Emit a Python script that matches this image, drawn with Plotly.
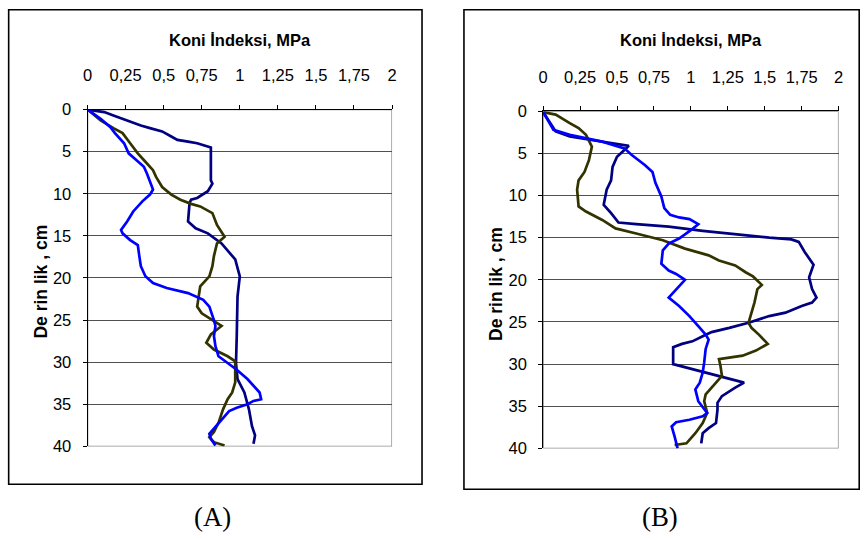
import plotly.graph_objects as go

# ---------- data (Koni indeksi, MPa vs Derinlik, cm) ----------
x_ticks = [0, 0.25, 0.5, 0.75, 1, 1.25, 1.5, 1.75, 2]
x_tick_text = ["0", "0,25", "0,5", "0,75", "1", "1,25", "1,5", "1,75", "2"]
y_ticks = [0, 5, 10, 15, 20, 25, 30, 35, 40]

# Panel A
a_navy_depth = [0, 0.3, 0.7, 1.3, 1.9, 2.2, 2.6, 3.2, 3.6, 3.8, 4.0, 4.5, 4.8, 8.4, 8.8, 9.7, 10.5, 10.7, 11.1, 13.3,
                14.1, 14.7, 15.9, 17.8, 19.8, 22.2, 26.9, 30.1, 32.0, 33.6, 35.6, 37.6, 38.7, 39.7]
a_navy_val = [0, 0.11, 0.17, 0.26, 0.35, 0.41, 0.49, 0.55, 0.59, 0.66, 0.72, 0.81, 0.81, 0.81, 0.82, 0.79, 0.72, 0.68,
              0.67, 0.66, 0.71, 0.79, 0.88, 0.97, 1.0, 0.985, 0.98, 0.975, 0.985, 1.03, 1.06, 1.08, 1.10, 1.09]

a_olive_depth = [0, 1.3, 2.2, 2.8, 4.0, 5.2, 6.2, 7.2, 8.0, 9.2, 10.1, 10.7, 11.2, 11.5, 12.3, 13.7, 15.1, 15.9, 17.4,
                 18.6, 19.8, 21.0, 22.2, 23.4, 24.2, 25.0, 25.7, 26.7, 27.7, 28.5, 29.3, 29.9, 32.4, 33.6, 34.4, 35.6,
                 37.2, 38.3, 38.9, 39.5, 39.9]
a_olive_val = [0, 0.086, 0.17, 0.23, 0.28, 0.33, 0.38, 0.43, 0.45, 0.49, 0.55, 0.61, 0.68, 0.74, 0.82, 0.85, 0.90, 0.85,
               0.83, 0.82, 0.80, 0.74, 0.73, 0.72, 0.75, 0.82, 0.88, 0.81, 0.78, 0.83, 0.92, 0.97, 0.97, 0.95, 0.92,
               0.89, 0.86, 0.83, 0.80, 0.83, 0.90]

a_blue_depth = [0, 1.1, 2.1, 2.8, 4.0, 5.2, 6.0, 6.8, 7.6, 9.5, 10.1, 10.9, 12.1, 13.3, 14.3, 14.7, 15.5, 16.1, 17.4,
                18.6, 19.8, 20.6, 21.2, 21.8, 22.6, 23.4, 25.0, 25.7, 26.9, 28.1, 29.3, 30.1, 30.9, 32.0, 33.6, 34.4,
                34.6, 35.0, 35.4, 35.8, 37.2, 38.0, 38.5, 39.1, 39.9]
a_blue_val = [0, 0.086, 0.15, 0.18, 0.24, 0.27, 0.32, 0.37, 0.39, 0.43, 0.41, 0.36, 0.30, 0.26, 0.22, 0.23, 0.28, 0.33,
              0.34, 0.35, 0.38, 0.43, 0.52, 0.66, 0.76, 0.80, 0.83, 0.84, 0.83, 0.84, 0.86, 0.92, 0.98, 1.05, 1.13,
              1.14, 1.09, 1.05, 0.98, 0.93, 0.86, 0.82, 0.80, 0.81, 0.84]

# Panel B
b_navy_depth = [0.1, 1.2, 2.4, 3.0, 3.3, 3.6, 3.8, 4.1, 4.6, 5.4, 6.6, 8.2, 9.3, 11.1, 12.1, 13.2, 13.4, 13.7, 14.2,
                14.6, 15.0, 15.2, 15.5, 16.7, 18.2, 19.7, 21.1, 22.1, 22.7, 23.1, 23.9, 24.3, 25.1, 25.7, 26.2, 26.7,
                27.3, 27.6, 28.0, 30.0, 30.6, 31.4, 32.2, 32.8, 33.8, 34.6, 35.4, 37.0, 37.6, 38.2, 39.4]
b_navy_val = [0, 0.04, 0.085, 0.18, 0.29, 0.40, 0.49, 0.58, 0.55, 0.50, 0.47, 0.46, 0.43, 0.41, 0.46, 0.51, 0.63, 0.85,
              1.08, 1.30, 1.53, 1.68, 1.73, 1.77, 1.83, 1.80, 1.82, 1.85, 1.82, 1.75, 1.64, 1.53, 1.39, 1.26, 1.14,
              1.08, 1.01, 0.94, 0.88, 0.88, 1.01, 1.19, 1.36, 1.30, 1.21, 1.18, 1.18, 1.17, 1.12, 1.08, 1.07]

b_olive_depth = [0.1, 0.4, 1.4, 2.0, 2.8, 4.2, 5.8, 7.2, 8.2, 9.3, 11.3, 11.9, 12.9, 13.9, 14.5, 15.3, 16.3, 17.1,
                 17.7, 18.3, 19.1, 19.6, 20.6, 21.1, 22.7, 25.1, 25.7, 26.5, 27.6, 28.4, 29.0, 29.2, 29.4, 30.2, 31.4,
                 32.2, 33.6, 34.4, 35.8, 37.0, 38.2, 39.4, 39.6]
b_olive_val = [0, 0.085, 0.18, 0.24, 0.29, 0.33, 0.31, 0.28, 0.24, 0.23, 0.24, 0.29, 0.40, 0.49, 0.63, 0.81, 0.96,
               1.12, 1.19, 1.30, 1.37, 1.42, 1.48, 1.45, 1.43, 1.39, 1.41, 1.46, 1.52, 1.44, 1.35, 1.26, 1.19, 1.20,
               1.21, 1.17, 1.10, 1.09, 1.11, 1.08, 1.03, 0.97, 0.89]

b_blue_depth = [0.1, 1.0, 2.2, 2.8, 3.2, 3.6, 4.4, 5.2, 6.4, 7.2, 8.5, 10.1, 11.5, 12.3, 12.6, 12.8, 13.4, 14.1, 15.1,
                15.7, 16.5, 18.1, 18.9, 19.3, 20.0, 21.1, 22.1, 23.1, 24.3, 25.5, 26.5, 27.1, 28.2, 29.8, 31.0, 32.2,
                33.0, 34.4, 35.8, 36.2, 36.6, 36.9, 37.4, 38.6, 40.0]
b_blue_val = [0, 0.03, 0.07, 0.18, 0.29, 0.40, 0.55, 0.60, 0.69, 0.74, 0.76, 0.80, 0.82, 0.86, 0.92, 0.99, 1.05, 1.00,
              0.92, 0.85, 0.81, 0.80, 0.85, 0.90, 0.96, 0.90, 0.85, 0.92, 0.99, 1.05, 1.10, 1.12, 1.10, 1.09, 1.08,
              1.06, 1.03, 1.05, 1.11, 1.08, 0.99, 0.90, 0.87, 0.89, 0.91]

x_title = "Koni İndeksi, MPa"
y_title = "De rin lik , cm"
panel_labels = ["(A)", "(B)"]

# ---------- figure ----------
W, H = 865, 540
NAVY, OLIVE, BLUE = "#000080", "#333300", "#0000FF"
FONT = "Liberation Sans, Arial, sans-serif"

# the page is photographed slightly shrunk about its centre; place things so they land
# on the reference pixel positions after that shrink
SX, SY = 0.99, 0.97


def px(v):
    f = W / 2 + (v - W / 2) / SX
    f = min(max(f, 0.8), W - 0.8)
    return f / W


def py(v):
    f = H / 2 + (v - H / 2) / SY
    f = min(max(f, 0.8), H - 0.8)
    return 1 - f / H


def fs(size):
    return round(size / SY, 1)


fig = go.Figure()


def add_panel(idx, navy, olive, blue):
    xa = "x" if idx == 1 else "x2"
    ya = "y" if idx == 1 else "y2"
    for (d, v), col in [(navy, NAVY), (olive, OLIVE), (blue, BLUE)]:
        fig.add_trace(go.Scatter(x=v, y=d, mode="lines", xaxis=xa, yaxis=ya,
                                 line=dict(color=col, width=2.7), showlegend=False,
                                 hoverinfo="skip"))


add_panel(1, (a_navy_depth, a_navy_val), (a_olive_depth, a_olive_val), (a_blue_depth, a_blue_val))
add_panel(2, (b_navy_depth, b_navy_val), (b_olive_depth, b_olive_val), (b_blue_depth, b_blue_val))

# pixel geometry (reference picture) of the two plot areas
panels = [
    dict(x0=87, x1=392, y0=109, y1=447, box=(8, 1, 422, 485), cx=212),
    dict(x0=543.3, x1=839.3, y0=110.7, y1=449, box=(464, 1, 861, 490), cx=660),
]

axis_font = dict(family=FONT, size=fs(16), color="#000000")
for i, p in enumerate(panels, start=1):
    sfx = "" if i == 1 else str(i)
    fig.update_layout(**{
        f"xaxis{sfx}": dict(domain=[px(p["x0"]), px(p["x1"])], range=[0, 2], side="top",
                            anchor=f"y{sfx}", tickvals=x_ticks, ticktext=x_tick_text,
                            ticks="outside", ticklen=4, tickcolor="#000", tickwidth=1,
                            showline=True, linecolor="#000", linewidth=1,
                            showgrid=False, zeroline=False, tickfont=axis_font,
                            ticklabelstandoff=17, fixedrange=True),
        f"yaxis{sfx}": dict(domain=[py(p["y1"]), py(p["y0"])], range=[40, 0],
                            anchor=f"x{sfx}", tickvals=y_ticks,
                            ticks="outside", ticklen=4, tickcolor="#000", tickwidth=1,
                            showline=True, linecolor="#000", linewidth=1,
                            showgrid=True, gridcolor="#505050", gridwidth=1,
                            zeroline=False, tickfont=axis_font,
                            ticklabelstandoff=8, fixedrange=True),
    })
    # gray plot-area border (right / bottom)
    fig.add_shape(type="rect", xref=f"x{sfx}", yref=f"y{sfx}", x0=0, x1=2, y0=0, y1=40,
                  line=dict(color="#909090", width=1.5), layer="below")
    # outer box
    bx0, by0, bx1, by1 = p["box"]
    fig.add_shape(type="rect", xref="paper", yref="paper", x0=px(bx0), x1=px(bx1),
                  y0=py(by1), y1=py(by0), line=dict(color="#000000", width=1.6))
    # titles
    fig.add_annotation(x=px((p["x0"] + p["x1"]) / 2), y=py(39), xref="paper", yref="paper",
                       text=f"<b>{x_title}</b>", showarrow=False,
                       font=dict(family=FONT, size=fs(16), color="#000"), xanchor="center", yanchor="middle")
    fig.add_annotation(x=px(p["x0"] - 47), y=py((p["y0"] + p["y1"]) / 2 + 4), xref="paper", yref="paper",
                       text=f"<b>{y_title}</b>", showarrow=False, textangle=-90,
                       font=dict(family=FONT, size=fs(17), color="#000"), xanchor="center", yanchor="middle")
    fig.add_annotation(x=px(p["cx"]), y=py(518), xref="paper", yref="paper",
                       text=panel_labels[i - 1], showarrow=False,
                       font=dict(family="Liberation Serif, Times New Roman, serif", size=fs(26), color="#000"),
                       xanchor="center", yanchor="middle")

fig.update_layout(width=W, height=H, margin=dict(l=0, r=0, t=0, b=0),
                  paper_bgcolor="#ffffff", plot_bgcolor="#ffffff", showlegend=False)

fig.write_html("out.html", config={"displayModeBar": False, "staticPlot": True},
               post_script="document.body.style.margin='0';document.body.style.overflow='hidden';")
